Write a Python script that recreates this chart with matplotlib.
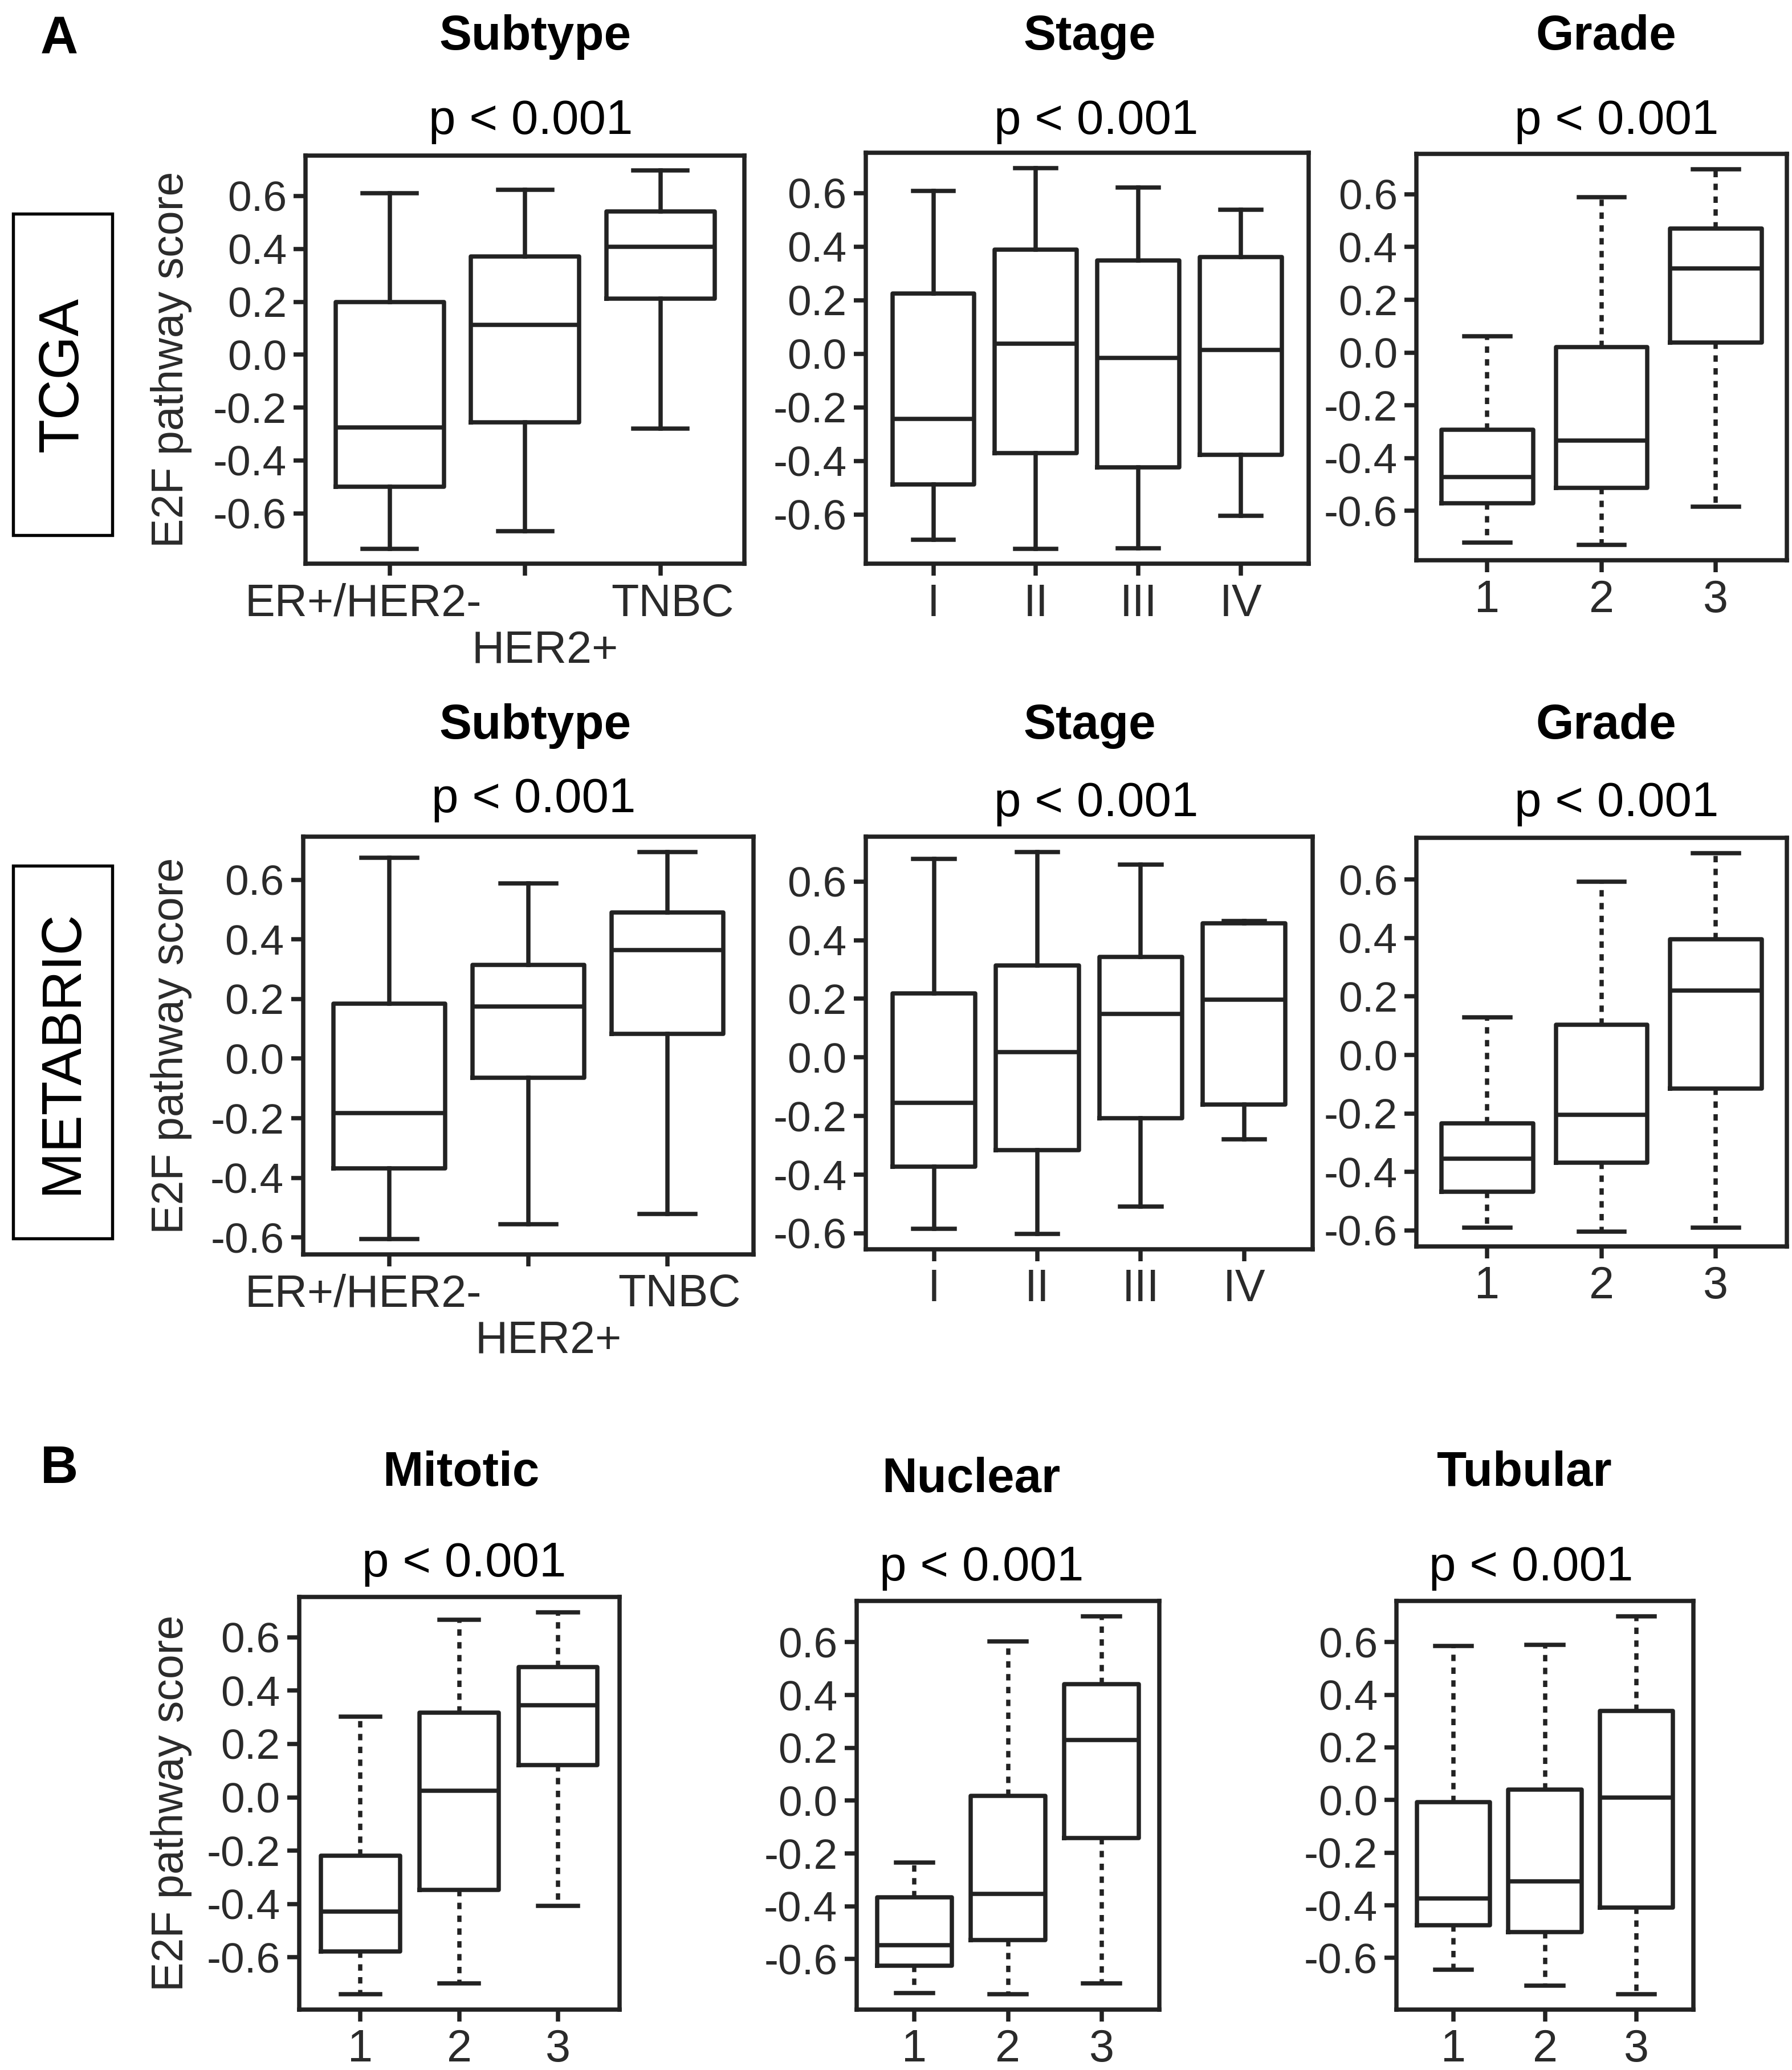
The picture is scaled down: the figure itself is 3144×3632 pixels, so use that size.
import matplotlib
matplotlib.use('Agg')
import matplotlib.pyplot as plt
from matplotlib.patches import Rectangle
from matplotlib.transforms import ScaledTranslation

plt.rcParams['font.family'] = ['Liberation Sans', 'DejaVu Sans']
plt.rcParams['axes.unicode_minus'] = False

# box stats per category: [lower whisker, Q1, median, Q3, upper whisker]
subtype_labels = ['ER+/HER2-', 'HER2+', 'TNBC']
stage_labels = ['I', 'II', 'III', 'IV']
grade_labels = ['1', '2', '3']

tcga_subtype = [[-0.734, -0.500, -0.275, 0.200, 0.610],
                [-0.668, -0.256, 0.112, 0.371, 0.624],
                [-0.280, 0.211, 0.409, 0.541, 0.696]]
tcga_stage = [[-0.694, -0.489, -0.243, 0.224, 0.607],
              [-0.728, -0.370, 0.037, 0.389, 0.693],
              [-0.726, -0.425, -0.016, 0.349, 0.620],
              [-0.606, -0.378, 0.015, 0.361, 0.537]]
tcga_grade = [[-0.719, -0.571, -0.472, -0.293, 0.062],
              [-0.729, -0.512, -0.333, 0.021, 0.588],
              [-0.583, 0.039, 0.319, 0.471, 0.695]]

metabric_subtype = [[-0.605, -0.369, -0.183, 0.184, 0.674],
                    [-0.555, -0.065, 0.175, 0.315, 0.589],
                    [-0.522, 0.083, 0.365, 0.491, 0.693]]
metabric_stage = [[-0.584, -0.373, -0.155, 0.219, 0.678],
                  [-0.602, -0.317, 0.018, 0.314, 0.701],
                  [-0.508, -0.207, 0.148, 0.343, 0.658],
                  [-0.279, -0.161, 0.198, 0.457, 0.466]]
metabric_grade = [[-0.590, -0.467, -0.355, -0.233, 0.129],
                  [-0.603, -0.369, -0.204, 0.103, 0.592],
                  [-0.590, -0.115, 0.220, 0.395, 0.690]]

mitotic = [[-0.738, -0.578, -0.429, -0.218, 0.302],
           [-0.697, -0.348, 0.025, 0.317, 0.665],
           [-0.407, 0.121, 0.345, 0.488, 0.694]]
nuclear = [[-0.728, -0.625, -0.547, -0.365, -0.235],
           [-0.733, -0.528, -0.353, 0.019, 0.604],
           [-0.691, -0.142, 0.229, 0.442, 0.699]]
tubular = [[-0.644, -0.476, -0.374, -0.007, 0.585],
           [-0.706, -0.501, -0.308, 0.040, 0.590],
           [-0.738, -0.408, 0.009, 0.338, 0.699]]

yticks = [-0.6, -0.4, -0.2, 0.0, 0.2, 0.4, 0.6]

# layout is measured on a 1360 x 1571 grid
W, H = 1360.0, 1571.0
PX = 3144.0 / W / 300.0   # one grid unit in inches
LC = '#222222'
LW = 1.8


def fx(x):
    return x / W


def fy(y):
    return 1 - y / H


def draw_panel(fig, box, rows, labels, dashed, title, title_xy, p_xy, stagger=False):
    x0, y0, x1, y1 = box
    ax = fig.add_axes([fx(x0), fy(y1), (x1 - x0) / W, (y1 - y0) / H])
    n = len(rows)
    stats = [dict(whislo=r[0], q1=r[1], med=r[2], q3=r[3], whishi=r[4], fliers=[]) for r in rows]
    ls = (0, (1.5, 1.5)) if dashed else '-'
    ax.bxp(stats, positions=list(range(1, n + 1)), widths=0.8, capwidths=0.4,
           showfliers=False,
           boxprops=dict(color=LC, lw=LW),
           medianprops=dict(color=LC, lw=LW),
           whiskerprops=dict(color=LC, lw=LW, linestyle=ls),
           capprops=dict(color=LC, lw=LW))
    lo = min(r[0] for r in rows)
    hi = max(r[4] for r in rows)
    pad = 0.04 * (hi - lo)
    ax.set_ylim(lo - pad, hi + pad)
    ax.set_xlim(0.5 - 0.04 * n, n + 0.5 + 0.04 * n)
    ax.set_yticks(yticks)
    ax.set_yticklabels([f'{v:.1f}' for v in yticks])
    ax.set_xticks(list(range(1, n + 1)))
    ax.set_xticklabels(labels)
    for s in ax.spines.values():
        s.set_linewidth(LW)
        s.set_color(LC)
    ax.tick_params(direction='out', length=5, width=LW, color=LC,
                   labelcolor='#2a2a2a', pad=3)
    ax.tick_params(axis='y', labelsize=18)
    ax.tick_params(axis='x', labelsize=19)
    if stagger:
        ax.xaxis.get_major_ticks()[1].set_pad(3 + 19.5)
        # nudge the subtype labels sideways like the original
        for lab, dx in zip(ax.get_xticklabels(), [-20, 15, 9]):
            lab.set_transform(lab.get_transform() + ScaledTranslation(dx * PX, 0, fig.dpi_scale_trans))
    fig.text(fx(title_xy[0]), fy(title_xy[1]), title, ha='center', va='center',
             fontsize=20.5, fontweight='bold')
    fig.text(fx(p_xy[0]), fy(p_xy[1]), 'p < 0.001', ha='center', va='center', fontsize=20.5)
    return ax


fig = plt.figure(figsize=(10.48, 12.1067), dpi=300)

# panel A, TCGA
draw_panel(fig, (232, 118, 565, 428), tcga_subtype, subtype_labels, False,
           'Subtype', (406, 28), (403, 92), stagger=True)
draw_panel(fig, (657, 116, 993, 428), tcga_stage, stage_labels, False,
           'Stage', (827, 28), (832, 92))
draw_panel(fig, (1075, 117, 1356, 425), tcga_grade, grade_labels, True,
           'Grade', (1219, 28), (1227, 92))

# panel A, METABRIC
draw_panel(fig, (230, 635, 572, 952), metabric_subtype, subtype_labels, False,
           'Subtype', (406, 551), (405, 607), stagger=True)
draw_panel(fig, (657, 635, 996, 948), metabric_stage, stage_labels, False,
           'Stage', (827, 551), (832, 610))
draw_panel(fig, (1075, 636, 1356, 946), metabric_grade, grade_labels, True,
           'Grade', (1219, 551), (1227, 610))

# panel B
draw_panel(fig, (227, 1212, 470, 1525), mitotic, grade_labels, True,
           'Mitotic', (350, 1118), (352, 1187))
draw_panel(fig, (650, 1215, 880, 1525), nuclear, grade_labels, True,
           'Nuclear', (737, 1123), (745, 1190))
draw_panel(fig, (1060, 1215, 1285, 1525), tubular, grade_labels, True,
           'Tubular', (1157, 1118), (1162, 1190))

# y axis labels
for yc in [(118 + 428) / 2, (635 + 952) / 2, (1212 + 1525) / 2]:
    fig.text(fx(130), fy(yc), 'E2F pathway score', rotation=90, ha='center', va='center',
             fontsize=18.5, color='#2a2a2a')

# cohort boxes
for (y0, y1, name) in [(162, 406, 'TCGA'), (657, 940, 'METABRIC')]:
    fig.add_artist(Rectangle((fx(10), fy(y1)), 75 / W, (y1 - y0) / H,
                             transform=fig.transFigure, fill=False, lw=1.3, ec='black'))
    fig.text(fx(47.5), fy((y0 + y1) / 2), name, rotation=90, ha='center', va='center',
             fontsize=23.5)

fig.text(fx(45), fy(30), 'A', ha='center', va='center', fontsize=22, fontweight='bold')
fig.text(fx(45), fy(1115), 'B', ha='center', va='center', fontsize=22, fontweight='bold')

fig.savefig('out.png', dpi=300, facecolor='white')
